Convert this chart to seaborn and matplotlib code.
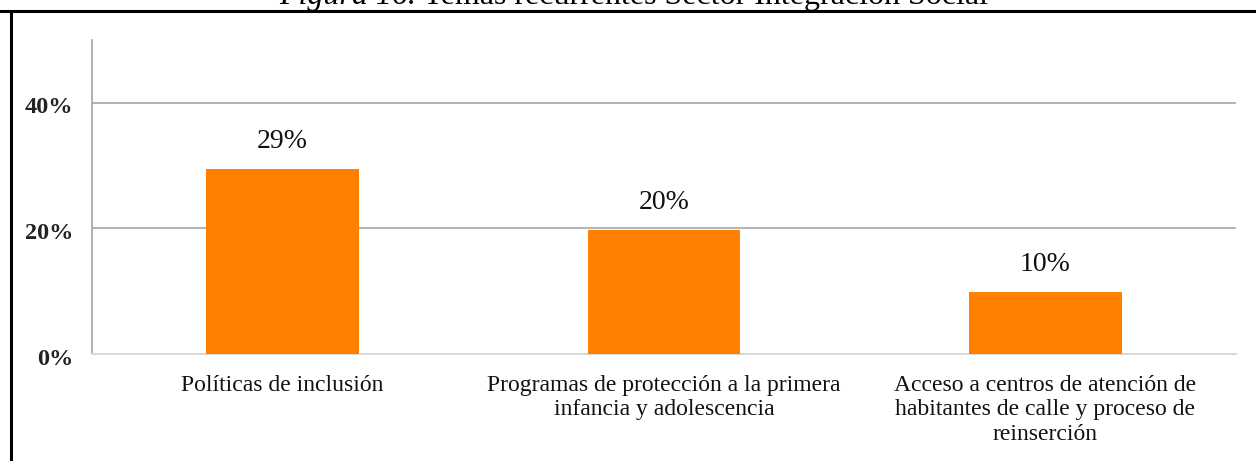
import matplotlib
matplotlib.use("Agg")
import matplotlib.pyplot as plt
import seaborn as sns
import pandas as pd
from matplotlib.lines import Line2D
from matplotlib.transforms import offset_copy

categories = [
    "Políticas de inclusión",
    "Programas de protección a la primera\ninfancia y adolescencia",
    "Acceso a centros de atención de\nhabitantes de calle y proceso de\nreinserción",
]
values = [0.294, 0.197, 0.098]
value_labels = ["29%", "20%", "10%"]
yticks = [0.0, 0.2, 0.4]
ytick_labels = ["0%", "20%", "40%"]

sns.set_theme(style="white")
plt.rcParams["font.family"] = ["Liberation Serif", "DejaVu Serif"]

df = pd.DataFrame({"cat": categories, "val": values})

fig = plt.figure(figsize=(12.56, 4.61), dpi=100)
ax = fig.add_axes([92 / 1256, 1 - 354 / 461, (1236 - 92) / 1256, (354 - 40) / 461])

sns.barplot(data=df, x="cat", y="val", color="#FF8000", width=0.4,
            saturation=1, ax=ax, zorder=3, edgecolor="none", linewidth=0)

ax.set_ylim(0, 0.5)
ax.set_xlim(-0.5, 2.5)
ax.set_yticks(yticks)
ax.set_yticklabels([])
ytrans = offset_copy(ax.get_yaxis_transform(), fig=fig, x=-19, y=-5, units="dots")
for y, lab in zip(yticks, ytick_labels):
    ax.text(0, y, lab, transform=ytrans, ha="right", va="center",
            fontsize=17.5, fontweight="bold", color="#222222")
ax.tick_params(axis="y", length=0)
ax.tick_params(axis="x", length=0, pad=15)
ax.set_xticks(range(len(categories)))
ax.set_xticklabels(categories, fontsize=17, color="#111111", linespacing=1.22)
ax.set_xlabel("")
ax.set_ylabel("")

for y in yticks[1:]:
    ax.axhline(y, color="#A6A6A6", lw=1.2, zorder=1)

for s in ["top", "right"]:
    ax.spines[s].set_visible(False)
ax.spines["left"].set_color("#A6A6A6")
ax.spines["left"].set_linewidth(1.2)
ax.spines["bottom"].set_color("#D9D9D9")
ax.spines["bottom"].set_linewidth(1.5)

for i, (v, lab) in enumerate(zip(values, value_labels)):
    ax.annotate(lab, (i, v), xytext=(0, 11), textcoords="offset points",
                ha="center", va="bottom", fontsize=20, color="#111111")

# frame lines
fig.add_artist(Line2D([0, 1], [1 - 11.5 / 461, 1 - 11.5 / 461], transform=fig.transFigure,
                      color="black", lw=2.2))
fig.add_artist(Line2D([11 / 1256, 11 / 1256], [0, 1 - 11.5 / 461], transform=fig.transFigure,
                      color="black", lw=2.2))

# title (cut off at the top edge, as in the reference)
fig.canvas.draw()
r = fig.canvas.get_renderer()
t1 = fig.text(0, 1 - 4 / 461, "Figura 16.", fontsize=23, style="italic",
              va="baseline", ha="left", color="black")
t2 = fig.text(0, 1 - 4 / 461, " Temas recurrentes Sector Integración Social", fontsize=23,
              va="baseline", ha="left", color="black")
w1 = t1.get_window_extent(r).width
w2 = t2.get_window_extent(r).width
total = w1 + w2
x0 = 634 - total / 2
t1.set_x(x0 / 1256)
t2.set_x((x0 + w1) / 1256)

fig.savefig("out.png", dpi=100, facecolor="white")
